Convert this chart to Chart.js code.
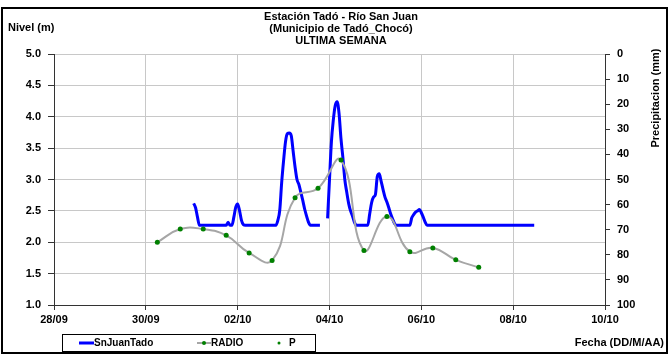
<!DOCTYPE html>
<html lang="es">
<head>
  <meta charset="UTF-8" />
  <title>Estación Tadó - Río San Juan</title>
  <script src="https://cdn.jsdelivr.net/npm/chart.js"></script>
  <style>
    body, html { margin: 0; padding: 0; background: #fff; }
    #wrap { width: 669px; height: 354px; }
  </style>
</head>
<body>
  <div id="wrap"><canvas id="nivelChart" width="669" height="354"></canvas></div>

  <script>
    // ejes
    const fechasEje = ['28/09', '30/09', '02/10', '04/10', '06/10', '08/10', '10/10'];

    // SnJuanTado (nivel, m) - "DD/MM HH"
    const nivelTiempos = [
      '01/10 01', '01/10 02', '01/10 03', '01/10 04', '01/10 18', '01/10 19', '01/10 20', '01/10 21',
      '01/10 22', '01/10 23', '02/10 00', '02/10 01', '02/10 02', '02/10 03', '02/10 04', '02/10 20',
      '02/10 21', '02/10 22', '02/10 23', '03/10 00', '03/10 01', '03/10 02', '03/10 03', '03/10 04',
      '03/10 05', '03/10 06', '03/10 07', '03/10 08', '03/10 09', '03/10 10', '03/10 11', '03/10 12',
      '03/10 13', '03/10 14', '03/10 19', '03/10 21', '03/10 23', '04/10 00', '04/10 01', '04/10 02',
      '04/10 03', '04/10 04', '04/10 05', '04/10 06', '04/10 07', '04/10 08', '04/10 09', '04/10 10',
      '04/10 11', '04/10 12', '04/10 13', '04/10 14', '04/10 20', '04/10 21', '04/10 22', '04/10 23',
      '05/10 00', '05/10 01', '05/10 02', '05/10 03', '05/10 04', '05/10 05', '05/10 06', '05/10 07',
      '05/10 08', '05/10 09', '05/10 10', '05/10 11', '05/10 18', '05/10 19', '05/10 20', '05/10 21',
      '05/10 22', '05/10 23', '06/10 00', '06/10 01', '06/10 02', '06/10 03', '08/10 11'
    ];
    const nivelValores = [
      2.62, 2.55, 2.40, 2.27, 2.27, 2.32, 2.27, 2.27,
      2.40, 2.56, 2.61, 2.50, 2.35, 2.28, 2.27, 2.27,
      2.35, 2.51, 2.95, 3.30, 3.60, 3.73, 3.74, 3.70,
      3.45, 3.20, 3.00, 2.92, 2.80, 2.67, 2.53, 2.42,
      2.32, 2.27, 2.27, null, 2.38, 3.00, 3.60, 3.95,
      4.18, 4.24, 4.05, 3.65, 3.35, 3.00, 2.80, 2.62,
      2.50, 2.42, 2.32, 2.27, 2.27, 2.45, 2.63, 2.72,
      2.76, 3.05, 3.09, 2.97, 2.84, 2.72, 2.64, 2.55,
      2.45, 2.37, 2.30, 2.27, 2.27, 2.39, 2.44, 2.48,
      2.50, 2.52, 2.47, 2.40, 2.32, 2.27, 2.27
    ];

    // RADIO (nivel, m)
    const radioTiempos = [
      '30/09 06', '30/09 18', '01/10 06', '01/10 18', '02/10 06', '02/10 18', '03/10 06', '03/10 18',
      '04/10 06', '04/10 18', '05/10 06', '05/10 18', '06/10 06', '06/10 18', '07/10 06'
    ];
    const radioValores = [2.00, 2.21, 2.21, 2.11, 1.83, 1.71, 2.71, 2.86, 3.31, 1.87, 2.41, 1.85, 1.91, 1.72, 1.60];

    // P (precipitacion, mm) - sin datos en la semana
    const precipTiempos = [];
    const precipValores = [];

    // dias desde 28/09 00:00
    function aDias(s) {
      const [fecha, hora] = s.split(' ');
      const [dd, mm] = fecha.split('/').map(Number);
      const dia = mm === 9 ? dd - 28 : dd + 2;
      return dia + (hora ? Number(hora) / 24 : 0);
    }
    const puntos = (t, v) => t.map((s, i) => ({ x: aDias(s), y: v[i] }));

    const fuente = 'bold 11px "Liberation Sans", Arial, sans-serif';

    const extras = {
      id: 'extras',
      afterDraw(chart) {
        const c = chart.ctx;
        c.save();
        c.fillStyle = '#000';
        c.font = fuente;
        c.textAlign = 'center';
        c.textBaseline = 'middle';
        c.fillText('Estación Tadó - Río San Juan', 341, 17);
        c.fillText('(Municipio de Tadó_Chocó)', 341, 29);
        c.fillText('ULTIMA SEMANA', 341, 41);
        c.textAlign = 'left';
        c.fillText('Nivel (m)', 8, 28);
        c.textAlign = 'right';
        c.fillText('Fecha (DD/M/AA)', 664, 343);

        c.save();
        c.translate(656, 98);
        c.rotate(-Math.PI / 2);
        c.textAlign = 'center';
        c.fillText('Precipitacion (mm)', 0, 0);
        c.restore();

        // leyenda
        const ds = chart.data.datasets;
        const ly = 343;
        c.strokeStyle = '#000';
        c.lineWidth = 1;
        c.strokeRect(62.5, 334.5, 253, 17);
        c.font = 'bold 10px "Liberation Sans", Arial, sans-serif';
        c.textAlign = 'left';

        c.strokeStyle = ds[0].borderColor;
        c.lineWidth = 3;
        c.beginPath(); c.moveTo(79, ly); c.lineTo(94, ly); c.stroke();
        c.fillText(ds[0].label, 94, ly);

        c.strokeStyle = ds[1].borderColor;
        c.lineWidth = 2;
        c.beginPath(); c.moveTo(197, ly); c.lineTo(211, ly); c.stroke();
        c.fillStyle = ds[1].pointBackgroundColor;
        c.beginPath(); c.arc(204, ly, 2, 0, Math.PI * 2); c.fill();
        c.fillStyle = '#000';
        c.fillText(ds[1].label, 211, ly);

        c.fillStyle = ds[2].pointBackgroundColor;
        c.beginPath(); c.arc(279, ly, 1.5, 0, Math.PI * 2); c.fill();
        c.fillStyle = '#000';
        c.fillText(ds[2].label, 289, ly);

        // marco
        c.strokeStyle = '#000';
        c.lineWidth = 2;
        c.strokeRect(2, 8, 665, 345);
        c.restore();
      }
    };

    new Chart(document.getElementById('nivelChart'), {
      type: 'line',
      data: {
        datasets: [
          {
            label: 'SnJuanTado',
            data: puntos(nivelTiempos, nivelValores),
            borderColor: '#0000ff',
            borderWidth: 3,
            pointRadius: 0,
            cubicInterpolationMode: 'monotone',
            spanGaps: false,
            yAxisID: 'y',
            order: 2
          },
          {
            label: 'RADIO',
            data: puntos(radioTiempos, radioValores),
            borderColor: '#a6a6a6',
            borderWidth: 2,
            tension: 0.45,
            pointRadius: 2.5,
            pointBorderWidth: 0,
            pointBackgroundColor: '#008000',
            yAxisID: 'y',
            order: 1
          },
          {
            label: 'P',
            data: puntos(precipTiempos, precipValores),
            showLine: false,
            pointRadius: 2,
            pointBackgroundColor: '#008000',
            borderColor: '#008000',
            yAxisID: 'y1',
            order: 0
          }
        ]
      },
      options: {
        responsive: false,
        devicePixelRatio: 1,
        animation: false,
        layout: { padding: { top: 54, left: 0, right: 0, bottom: 0 } },
        plugins: { legend: { display: false }, title: { display: false }, tooltip: { enabled: false } },
        scales: {
          x: {
            type: 'linear',
            min: 0,
            max: 12,
            afterFit: s => { s.height = 49; },
            ticks: {
              stepSize: 2,
              autoSkip: false,
              maxRotation: 0,
              padding: 3,
              color: '#000',
              font: { family: '"Liberation Sans", Arial, sans-serif', size: 11, weight: 'bold' },
              callback: v => fechasEje[v / 2]
            },
            grid: { color: '#c8c8c8', tickColor: '#333', tickLength: 5 },
            border: { color: '#333' }
          },
          y: {
            position: 'left',
            min: 1,
            max: 5,
            afterFit: s => { s.width = 54; },
            ticks: {
              stepSize: 0.5,
              padding: 7,
              color: '#000',
              font: { family: '"Liberation Sans", Arial, sans-serif', size: 11, weight: 'bold' },
              callback: v => v.toFixed(1)
            },
            grid: { color: '#c8c8c8', tickColor: '#333', tickLength: 6 },
            border: { color: '#333' }
          },
          y1: {
            position: 'right',
            min: 0,
            max: 100,
            reverse: true,
            afterFit: s => { s.width = 64; },
            ticks: {
              stepSize: 10,
              padding: 7,
              color: '#000',
              font: { family: '"Liberation Sans", Arial, sans-serif', size: 11, weight: 'bold' }
            },
            grid: { drawOnChartArea: false, tickColor: '#333', tickLength: 5 },
            border: { color: '#333' }
          }
        }
      },
      plugins: [extras]
    });
  </script>
</body>
</html>
